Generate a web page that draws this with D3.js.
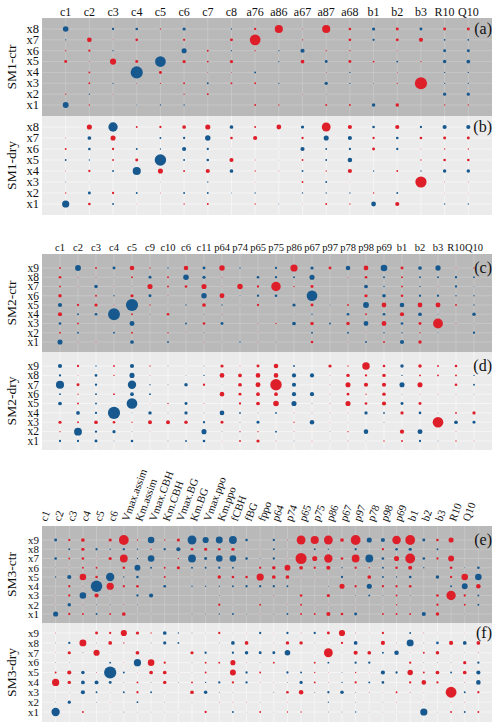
<!DOCTYPE html>
<html>
<head>
<meta charset="utf-8">
<script src="https://cdn.jsdelivr.net/npm/d3@7"></script>
<style>
  body { margin: 0; background: #ffffff; }
</style>
</head>
<body>
<svg id="chart" width="500" height="728"></svg>
<script>
// ---- data: signed sensitivity (red > 0, blue < 0) ----
const sm1Cols = ["c1","c2","c3","c4","c5","c6","c7","c8","a76","a86","a67","a87","a68","b1","b2","b3","R10","Q10"];
const sm1Rows = ["x8","x7","x6","x5","x4","x3","x2","x1"];
const sm1Ctr = [
  [-0.18,0,-0.03,-0.04,0.01,-0.06,0,-0.01,0.03,0.38,0.005,0.38,0.04,-0.06,0.05,-0.05,0.05,0.05],
  [-0.01,0.13,0.005,0.04,0,0.03,0,0.05,0.66,0,0.01,0,0.04,-0.03,0.05,0.1,-0.02,-0.02],
  [0.01,0.03,-0.01,0,0,-0.15,0.02,-0.01,0.01,-0.01,-0.1,0.01,0.01,0,0.005,0,-0.05,-0.05],
  [0.05,0.005,0.22,0.05,-0.66,0.06,0.02,0.06,0,-0.01,0.08,-0.05,0.05,0.02,-0.02,0.01,-0.07,-0.08],
  [0,0.02,0,-0.85,0.05,0,0.005,0.005,-0.02,0,0,0.005,-0.01,0,0.005,0,-0.01,-0.01],
  [0,0.02,-0.01,0.005,0.01,0.02,-0.02,0.02,0.02,-0.01,0,-0.06,-0.01,-0.005,0.01,0.85,-0.01,-0.01],
  [0.01,-0.01,0.005,0,0,0.01,0.02,0,0,0,0.005,-0.005,0,0,0,0,-0.06,-0.06],
  [-0.2,0.01,0,-0.005,-0.01,-0.01,0,0,0.02,0.01,0,0.02,0.02,-0.07,0.07,0,0.01,0.01]
];
const sm1Dry = [
  [0,0.15,-0.5,0.02,0.03,0.08,0.15,-0.08,0.02,0.13,-0.06,0.45,0.1,-0.04,0.1,-0.03,-0.1,-0.1],
  [0.005,-0.08,0.15,0,-0.02,-0.03,-0.17,0.04,0.1,0,0.03,-0.15,-0.1,0.03,-0.04,0.04,0.05,0.05],
  [0.02,-0.04,0.03,-0.02,-0.01,-0.1,-0.03,0.002,0,0.002,-0.1,-0.02,-0.03,0.05,-0.03,0.005,0.01,0.01],
  [-0.02,-0.01,0.02,0.05,-0.75,-0.02,-0.04,0.1,0.005,0.003,0.02,-0.02,-0.12,0,0,0.01,0.04,0.04],
  [0.005,0.03,-0.02,-0.38,0.15,0.02,0.1,-0.08,0.01,0.005,-0.02,0.01,0.1,-0.01,0.02,-0.01,-0.07,-0.07],
  [-0.005,-0.002,0,0,-0.003,0,-0.01,0,0.003,0,0.02,-0.02,0.003,0,0,0.72,0.004,0.004],
  [0.01,-0.05,0.03,-0.02,0.005,-0.02,-0.02,-0.005,-0.01,0,-0.01,-0.01,-0.01,0.01,-0.02,0,0.003,0.003],
  [-0.3,0.04,-0.02,0.003,0,0.01,0.02,0,0.01,-0.005,0.003,0.02,0.01,-0.13,0.1,0,-0.01,-0.01]
];

const sm2Cols = ["c1","c2","c3","c4","c5","c9","c10","c6","c11","p64","p74","p65","p75","p86","p67","p97","p78","p98","p69","b1","b2","b3","R10","Q10"];
const sm2Rows = ["x9","x8","x7","x6","x5","x4","x3","x2","x1"];
const sm2Ctr = [
  [0.02,-0.2,0.02,-0.05,0.12,0.01,-0.01,0.12,-0.05,0.17,-0.01,0,-0.03,0.3,-0.06,0.05,-0.12,0.13,-0.25,0.05,-0.08,-0.16,0.005,0.01],
  [0.04,0.005,0.005,-0.003,0.02,-0.05,0.02,-0.18,-0.06,0.005,0,-0.04,-0.03,-0.02,-0.15,0,0.005,0.04,-0.02,0.02,-0.02,-0.02,-0.03,-0.02],
  [0.02,0.005,-0.07,0.003,-0.003,0.15,0.02,0.04,0.15,0.003,0.17,0.03,0.52,0.01,0.05,0,0,-0.08,-0.01,0.02,-0.01,0.005,-0.03,-0.005],
  [0.07,0,0.02,-0.01,0.06,-0.05,0.005,0,-0.17,0.14,-0.005,-0.03,-0.04,0,-0.65,0,0,0.06,-0.07,0.04,-0.03,-0.03,-0.01,-0.01],
  [-0.1,0.03,0.06,0.005,-0.85,0.01,-0.003,-0.01,0.08,-0.01,-0.003,0.03,0,-0.06,0.05,-0.005,0.02,-0.2,0.13,-0.12,0.13,0.14,0.02,-0.01],
  [0.1,-0.02,-0.04,-0.8,0.02,-0.005,0.04,0,-0.005,0.005,0,0,0,0.002,-0.01,0,-0.04,0.02,-0.04,0.1,-0.08,-0.005,0,-0.07],
  [-0.04,0.02,0,0.003,-0.14,0,0,-0.02,0.04,-0.05,0,0.005,0.01,-0.08,0.07,-0.02,0.07,-0.13,0.13,-0.04,0.05,0.55,0.005,-0.003],
  [0.02,-0.02,0,-0.02,0.02,0,0.01,0.003,-0.005,0,0,0.003,0,0,-0.02,0,-0.02,0.003,-0.01,-0.01,0.01,-0.005,0,-0.03],
  [-0.15,0.005,0.005,0,-0.08,0,-0.02,0,0.005,-0.003,-0.01,0.005,-0.005,0,0.04,0,0.003,-0.02,0.02,-0.1,0.07,0,0,0]
];
const sm2Dry = [
  [-0.1,0.03,-0.01,0.02,-0.1,0.01,-0.005,0.002,-0.005,0.06,0.005,0.05,0.12,-0.02,0,0.06,0.01,0.32,0.04,-0.07,0.07,0.02,0.04,0],
  [-0.03,0.005,-0.04,0.01,-0.15,0.005,0,-0.003,-0.01,0.13,0.08,0.12,0.12,-0.1,-0.1,0.003,0.07,0.03,0.07,-0.01,0.02,0.02,0.02,-0.01],
  [-0.38,0.05,-0.03,0,-0.4,-0.01,-0.005,-0.07,0.03,-0.003,0.08,0.14,0.75,-0.1,0,0.005,0.15,0.1,0.1,-0.15,0.15,0,0.04,-0.02],
  [-0.02,0.01,-0.02,0.02,-0.08,-0.02,0,0,0,0.12,0.05,0.08,0.08,-0.1,-0.1,0.005,0.04,0.01,0.07,-0.005,0.005,0.005,0.003,-0.003],
  [-0.08,0.02,-0.02,0,-0.65,0.003,0.01,-0.05,0.005,0,0.03,0.08,0.18,-0.15,-0.005,0.005,0.15,0.04,0.1,-0.05,0.05,0,0,0],
  [0,-0.08,-0.03,-0.85,-0.005,-0.07,-0.005,-0.06,-0.005,-0.13,-0.02,-0.005,-0.02,0.005,0.005,0.003,0.003,-0.06,-0.02,0.06,-0.04,-0.003,0.02,0.06],
  [0.06,0.02,0.08,0.04,0.01,0.09,0.09,0.07,-0.03,0.05,-0.005,-0.05,0,0.01,-0.12,0.003,0.002,0,-0.005,0,0,0.65,-0.08,-0.05],
  [0.01,-0.35,-0.03,-0.06,-0.005,0.002,0,0,-0.15,-0.005,0.01,0.01,-0.02,0.005,0,-0.003,0.01,-0.12,0,0.1,-0.14,0,0.005,0],
  [-0.03,-0.03,-0.05,-0.005,-0.04,0,-0.005,-0.02,-0.04,0.003,0.02,0.06,0.005,-0.005,0.005,-0.003,0.005,-0.003,0.01,0.02,-0.03,-0.005,0.01,0.005]
];

const sm3Cols = ["c1","c2","c3","c4","c5","c6","Vmax.assim","Km.assim","Vmax.CBH","Km.CBH","Vmax.BG","Km.BG","Vmax.ppo","Km.ppo","fCBH","fBG","fppo","p64","p74","p65","p75","p86","p67","p97","p78","p98","p69","b1","b2","b3","R10","Q10"];
const sm3Rows = ["x9","x8","x7","x6","x5","x4","x3","x2","x1"];
const sm3Ctr = [
  [-0.05,0.03,0.08,0,0.06,0.55,0.01,-0.25,0.01,0.06,-0.45,-0.22,-0.28,-0.35,-0.04,0,-0.03,0.005,0.45,0.38,0.45,0.08,0.55,-0.15,-0.1,0.42,0.55,-0.05,0.04,0.15,0,0],
  [0,-0.02,0.06,-0.03,-0.01,-0.03,-0.01,0.01,-0.03,-0.1,0.04,0.06,0.04,0.06,0.003,0.003,-0.02,0.002,0,-0.02,-0.01,0,-0.03,0,0.03,-0.04,-0.06,0,-0.02,0,0,0],
  [-0.04,0.02,0.04,0.003,0.06,0.35,-0.01,-0.25,0,0.01,-0.35,-0.05,-0.25,-0.25,-0.04,-0.005,-0.03,0.003,0.7,0.15,0.4,0.04,0.35,-0.35,-0.04,0.15,0.55,-0.04,0.03,0.2,0,0],
  [-0.003,0.003,0.02,0.02,0,0.04,-0.2,-0.02,0.02,0.06,-0.02,-0.02,-0.03,-0.02,0,0.03,0.07,0.2,0.08,0.03,0.1,-0.01,0.03,0.01,-0.02,0.04,0.1,-0.01,0,0.04,-0.005,-0.04],
  [-0.01,-0.1,0.25,0.04,-0.4,-0.01,-0.04,-0.003,0.02,0,0.003,0.003,0.07,0.04,0.04,0.3,0.08,0.08,0.003,0.003,0.002,-0.03,-0.003,0.08,-0.02,-0.01,-0.04,0,-0.07,0.03,0.25,-0.25],
  [0,0.03,0.005,-0.75,0.3,0.03,0.04,0,-0.04,0,-0.01,-0.01,-0.01,-0.02,-0.03,-0.03,-0.03,-0.02,0,0,-0.005,0.15,0.03,-0.15,0.03,0.03,0.04,0,0,-0.02,-0.2,0.12],
  [0.003,0.03,-0.25,0.1,-0.003,0,-0.03,-0.1,0,0,0,0,-0.005,0,0,0.002,0.005,0,0.04,0,0.06,0,-0.005,-0.02,-0.005,0.02,-0.005,0,0.04,0.5,0.03,-0.02],
  [0.003,-0.07,0.005,-0.005,-0.005,0.005,-0.005,0,0,0,0,0,0.03,0.002,0,0.02,0,0.003,0.02,0.003,0.003,0,0.003,0,0.003,0.01,0.002,0,0.03,-0.002,0.02,-0.02],
  [-0.15,0.03,0.02,-0.02,0.02,0.08,-0.003,-0.003,0,0,-0.005,-0.005,-0.01,-0.02,-0.005,0.003,-0.005,-0.02,0.02,0.02,0.1,0.04,-0.05,0,0.02,0.02,0.02,-0.1,0.07,0,-0.003,0]
];
const sm3Dry = [
  [0.005,0,0,0.05,0.03,0.22,0.06,0.01,-0.08,-0.01,-0.005,-0.003,0.03,-0.003,0.003,-0.03,0.003,-0.03,0.005,-0.03,0.05,0.22,0.005,0.002,0.03,0,-0.02,0.005,0.002,0,0.002,0],
  [-0.005,-0.03,0.28,-0.003,0.08,0.01,0,-0.005,-0.06,-0.02,0,0,-0.005,-0.08,0.08,0,0.003,0.07,0.07,-0.003,-0.002,0.03,-0.08,0,0.1,0.003,-0.28,-0.005,-0.04,0.1,-0.08,0.08],
  [0.003,0.06,-0.005,0.22,0.002,0,0.08,0.002,0,0,0.06,-0.03,0,-0.03,-0.07,-0.05,-0.05,-0.18,0,0.002,0.45,0.002,0.1,0.08,-0.02,-0.12,0.003,0.02,0.07,-0.003,-0.003,0.005],
  [-0.003,-0.003,0,0,-0.02,0.003,-0.3,0.25,0.03,0,-0.005,0.02,0.02,0.15,0.003,-0.003,0.02,0,0,0.02,-0.02,0,-0.03,-0.03,0,0,0.03,-0.003,-0.003,-0.003,0.06,-0.03],
  [0.02,0.1,-0.07,0.005,-0.85,-0.02,0.003,0.08,0.08,0.002,0.003,0.02,0,0.2,-0.03,0.02,0,-0.03,-0.02,0.01,0.003,-0.005,0.01,0.003,-0.1,-0.03,0.17,0.02,0.08,-0.02,0.08,-0.1],
  [0.3,0.07,-0.08,-0.09,-0.05,-0.003,0.02,-0.005,0.07,-0.005,0.02,-0.01,-0.03,0.03,-0.03,0.003,0.002,-0.005,-0.06,0.02,0.003,-0.01,0.03,-0.02,-0.04,0,0.03,0.12,0.03,0.003,0.005,-0.12],
  [0,-0.003,-0.1,-0.02,0.002,-0.02,0.03,-0.02,0.002,0,0.08,-0.07,-0.005,-0.003,0,0,-0.005,0.04,0.12,-0.005,-0.03,-0.07,-0.005,0.005,0.003,0.02,0.005,0.003,0,0.67,-0.02,0.03],
  [-0.003,-0.06,0,-0.005,0.002,0,-0.02,0,-0.003,0,-0.002,0,0.005,0.003,0.005,-0.002,0,0.002,0,0,-0.01,0,-0.005,0,-0.003,0.003,0,0.003,0,0.003,0.003,0],
  [-0.4,0,0.02,0,0.003,-0.005,-0.003,-0.003,-0.003,0.002,0,0.03,0,-0.02,0.003,0.02,-0.003,0.01,0.01,0,-0.005,-0.005,-0.01,0.003,0.003,0.002,0,-0.3,0.003,0.02,-0.02,0.02]
];

// ---- drawing ----
const svg = d3.select("#chart");
const serif = "Liberation Serif";
const left = 42, right = 492;
const red = "#de1f2a", blue = "#17598f";
const r = d3.scaleSqrt().domain([0, 1]).range([0, 6.6]);

function label(sel) {
  return sel.attr("font-family", serif).attr("fill", "#111");
}

// panel: y0/y1 = background extent, r0/r1 = first/last row centre
function block(cols, rows, data, y0, y1, r0, r1, opts) {
  const g = svg.append("g");
  g.append("rect").attr("x", left).attr("y", y0)
    .attr("width", right - left).attr("height", y1 - y0)
    .attr("fill", opts.bg);

  const x = d3.scalePoint().domain(cols).range([left, right]).padding(1);
  const y = d3.scalePoint().domain(rows).range([r0, r1]);

  g.selectAll(".vg").data(cols).enter().append("line")
    .attr("x1", d => x(d)).attr("x2", d => x(d))
    .attr("y1", y0).attr("y2", y1)
    .attr("stroke", opts.grid).attr("stroke-width", 0.8);
  g.selectAll(".hg").data(rows).enter().append("line")
    .attr("x1", left).attr("x2", right)
    .attr("y1", d => y(d)).attr("y2", d => y(d))
    .attr("stroke", opts.grid).attr("stroke-width", 0.8);

  const cells = [];
  data.forEach((row, i) => row.forEach((v, j) => {
    if (v !== 0) cells.push({ c: cols[j], rw: rows[i], v: v });
  }));
  g.selectAll("circle").data(cells).enter().append("circle")
    .attr("cx", d => x(d.c)).attr("cy", d => y(d.rw))
    .attr("r", d => r(Math.abs(d.v)))
    .attr("fill", d => d.v > 0 ? red : blue);

  label(g.selectAll(".rl").data(rows).enter().append("text"))
    .attr("x", 39).attr("y", d => y(d) + 3.8)
    .attr("text-anchor", "end").attr("font-size", opts.rowFont)
    .text(d => d);

  label(g.append("text"))
    .attr("transform", `translate(16,${(y0 + y1) / 2}) rotate(-90)`)
    .attr("text-anchor", "middle").attr("font-size", 13.5)
    .text(opts.title);

  label(g.append("text")).attr("x", 492).attr("y", y(rows[0]) + 5)
    .attr("text-anchor", "end").attr("font-size", 16)
    .text(opts.tag);
  return x;
}

function header(x, cols, yb, rotate, size) {
  const t = label(svg.append("g").selectAll("text").data(cols).enter().append("text"))
    .attr("font-size", size).text(d => d);
  if (rotate) {
    t.attr("transform", d => `translate(${x(d) - 9},${yb}) rotate(-70)`)
      .attr("text-anchor", "start");
  } else {
    t.attr("x", d => x(d)).attr("y", yb).attr("text-anchor", "middle");
  }
}

const darkBg = "#b9b9b9", darkGrid = "#c9c9c9", lightBg = "#ebebeb", lightGrid = "#f7f7f7";

let x1 = block(sm1Cols, sm1Rows, sm1Ctr, 18, 116, 29, 105, { bg: darkBg, grid: darkGrid, title: "SM1-ctr", tag: "(a)", rowFont: 12.5 });
block(sm1Cols, sm1Rows, sm1Dry, 116, 215, 127, 204, { bg: lightBg, grid: lightGrid, title: "SM1-dry", tag: "(b)", rowFont: 12.5 });
header(x1, sm1Cols, 16, false, 12);

let x2 = block(sm2Cols, sm2Rows, sm2Ctr, 254, 352, 268, 342, { bg: darkBg, grid: darkGrid, title: "SM2-ctr", tag: "(c)", rowFont: 11.5 });
block(sm2Cols, sm2Rows, sm2Dry, 352, 450, 366, 441, { bg: lightBg, grid: lightGrid, title: "SM2-dry", tag: "(d)", rowFont: 11.5 });
header(x2, sm2Cols, 251, false, 10.5);

let x3 = block(sm3Cols, sm3Rows, sm3Ctr, 526, 623, 540, 614, { bg: darkBg, grid: darkGrid, title: "SM3-ctr", tag: "(e)", rowFont: 11 });
block(sm3Cols, sm3Rows, sm3Dry, 623, 722, 633, 712, { bg: lightBg, grid: lightGrid, title: "SM3-dry", tag: "(f)", rowFont: 11 });
header(x3, sm3Cols, 522, true, 11);
</script>
</body>
</html>
